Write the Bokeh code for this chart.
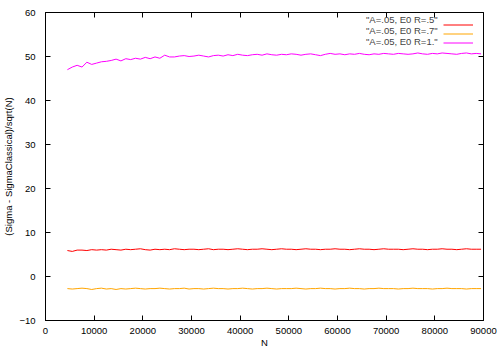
from bokeh.plotting import figure
from bokeh.models import LinearAxis, Range1d, SingleIntervalTicker, Legend, LegendItem, CustomJSTickFormatter
from bokeh.embed import file_html
from bokeh.resources import INLINE

N = list(range(4500, 90000, 1000))

r_05 = [5.9, 5.7, 6.0, 6.0, 5.9, 6.1, 6.0, 6.1, 6.0, 6.2,
        6.1, 6.0, 6.2, 6.1, 6.2, 6.3, 6.1, 6.0, 6.2, 6.1,
        6.2, 6.1, 6.3, 6.2, 6.1, 6.2, 6.2, 6.1, 6.2, 6.3,
        6.1, 6.2, 6.2, 6.1, 6.2, 6.3, 6.2, 6.1, 6.2, 6.2,
        6.3, 6.2, 6.1, 6.2, 6.3, 6.2, 6.2, 6.1, 6.2, 6.3,
        6.2, 6.2, 6.1, 6.2, 6.2, 6.3, 6.2, 6.2, 6.1, 6.2,
        6.3, 6.2, 6.2, 6.1, 6.2, 6.3, 6.2, 6.2, 6.2, 6.1,
        6.2, 6.3, 6.2, 6.2, 6.1, 6.2, 6.2, 6.3, 6.2, 6.2,
        6.1, 6.2, 6.3, 6.2, 6.2, 6.2]

r_07 = [-2.75, -2.85, -2.75, -2.65, -2.75, -2.95, -2.75, -2.65, -2.85, -2.75,
        -2.95, -2.75, -2.85, -2.75, -2.65, -2.75, -2.85, -2.75, -2.75, -2.65,
        -2.75, -2.85, -2.75, -2.75, -2.65, -2.85, -2.75, -2.75, -2.85, -2.75,
        -2.65, -2.75, -2.75, -2.85, -2.75, -2.75, -2.65, -2.75, -2.85, -2.75,
        -2.75, -2.65, -2.75, -2.85, -2.75, -2.75, -2.75, -2.65, -2.75, -2.85,
        -2.75, -2.75, -2.65, -2.75, -2.75, -2.85, -2.75, -2.75, -2.65, -2.75,
        -2.75, -2.85, -2.75, -2.75, -2.65, -2.75, -2.75, -2.75, -2.85, -2.75,
        -2.75, -2.65, -2.75, -2.75, -2.75, -2.85, -2.75, -2.75, -2.65, -2.75,
        -2.75, -2.75, -2.85, -2.75, -2.75, -2.75]

r_10 = [47.0, 47.6, 48.0, 47.6, 48.7, 48.2, 48.5, 48.8, 48.9, 49.1,
        49.4, 49.0, 49.5, 49.3, 49.6, 49.4, 49.8, 49.5, 49.9, 49.6,
        50.3, 49.9, 49.9, 50.1, 50.2, 50.0, 50.1, 50.3, 50.1, 49.9,
        50.2, 50.3, 50.1, 50.4, 50.2, 50.5, 50.3, 50.2, 50.4, 50.5,
        50.3, 50.6, 50.4, 50.3, 50.5, 50.4, 50.6, 50.5, 50.3, 50.5,
        50.6, 50.4, 50.2, 50.5, 50.7, 50.5, 50.6, 50.4, 50.6, 50.5,
        50.7, 50.5, 50.4, 50.6, 50.5, 50.7, 50.6, 50.5, 50.7, 50.6,
        50.5, 50.6, 50.8, 50.6, 50.5, 50.7, 50.6, 50.8, 50.7, 50.6,
        50.5, 50.7, 50.8, 50.6, 50.7, 50.6]

labels = ['"A=.05, E0 R=.5"', '"A=.05, E0 R=.7"', '"A=.05, E0 R=1."']
colors = ["#ff0000", "#ffa500", "#ff00ff"]

FONT = "Liberation Sans"
FS = "9.5px"

p = figure(width=500, height=350, output_backend="svg", toolbar_location=None,
           x_range=Range1d(0, 90000), y_range=Range1d(-10, 60),
           min_border_left=44, min_border_right=17, min_border_top=12, min_border_bottom=30)
p.xgrid.visible = False
p.ygrid.visible = False
p.outline_line_color = "black"
p.outline_line_width = 1
p.background_fill_color = "white"
p.border_fill_color = "white"

xt = SingleIntervalTicker(interval=10000)
yt = SingleIntervalTicker(interval=10)
p.xaxis.ticker = xt
p.yaxis.ticker = yt
p.xaxis.axis_label = "N"
p.yaxis.axis_label = "(Sigma - SigmaClassical)/sqrt(N)"

for ax in [p.xaxis[0], p.yaxis[0]]:
    ax.major_tick_in = 5
    ax.major_tick_out = 0
    ax.minor_tick_line_color = None
    ax.axis_line_color = "black"
    ax.major_tick_line_color = "black"
    ax.major_label_text_font = FONT
    ax.major_label_text_font_size = FS
    ax.major_label_text_color = "black"
    ax.axis_label_text_font = FONT
    ax.axis_label_text_font_size = FS
    ax.axis_label_text_font_style = "normal"
    ax.axis_label_text_color = "black"
p.yaxis.major_label_standoff = 6
p.yaxis.axis_label_standoff = 2
p.xaxis.major_label_standoff = 3
p.xaxis.axis_label_standoff = 0

for loc, tk in (("above", xt), ("right", yt)):
    ax = LinearAxis(ticker=tk, major_tick_in=5, major_tick_out=0,
                    minor_tick_line_color=None, axis_line_color=None,
                    formatter=CustomJSTickFormatter(code="return ''"),
                    major_label_standoff=0)
    p.add_layout(ax, loc)

rs = []
for ys, c in zip([r_05, r_07, r_10], colors):
    rs.append(p.line(N, ys, line_color=c, line_width=1))

lab_legend = Legend(items=[LegendItem(label=l, renderers=[r]) for l, r in zip(labels, rs)],
                    location=(321, 273), glyph_width=0, glyph_height=9, label_standoff=0,
                    label_height=9, spacing=-1, padding=0, margin=0,
                    border_line_color=None, background_fill_alpha=0,
                    label_text_font=FONT, label_text_font_size=FS)
gly_legend = Legend(items=[LegendItem(label=" ", renderers=[r]) for r in rs],
                    location=(398, 273), glyph_width=30, glyph_height=9, label_standoff=0,
                    label_height=9, spacing=-1, padding=0, margin=0,
                    border_line_color=None, background_fill_alpha=0,
                    label_text_font=FONT, label_text_font_size=FS)
p.add_layout(lab_legend)
p.add_layout(gly_legend)

open("out.html", "w").write(file_html(p, INLINE))
